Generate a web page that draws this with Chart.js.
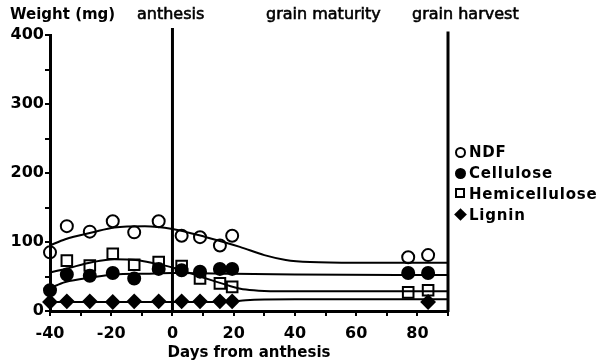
<!DOCTYPE html>
<html>
<head>
<meta charset="utf-8">
<script src="https://cdn.jsdelivr.net/npm/chart.js@4"></script>
<style>
  html, body { margin: 0; padding: 0; background: #fff; }
  #wrap { position: relative; width: 599px; height: 363px; overflow: hidden; }
  canvas { position: absolute; left: 0; top: 0; }
  .t { position: absolute; font-family: "DejaVu Sans", sans-serif; color: #000; white-space: nowrap; line-height: 16px; }
  .top { font-size: 16px; -webkit-text-stroke: 0.6px #000; }
  .ytitle { font-size: 15px; font-weight: bold; }
  .leg { font-size: 15px; font-weight: bold; letter-spacing: 0.8px; }
  .mk { position: absolute; box-sizing: border-box; }
</style>
</head>
<body>
<div id="wrap">
  <canvas id="c" width="599" height="363"></canvas>
  <div class="t ytitle" style="left:10px; top:6px;">Weight (mg)</div>
  <div class="t top" style="left:137px; top:6px;">anthesis</div>
  <div class="t top" style="left:266px; top:6px;">grain maturity</div>
  <div class="t top" style="left:412px; top:6px;">grain harvest</div>

  <div class="mk" style="left:455px; top:147px; width:11px; height:11px; border:2px solid #000; border-radius:50%;"></div>
  <div class="t leg" style="left:469px; top:144px;">NDF</div>
  <div class="mk" style="left:455px; top:168px; width:11px; height:11px; background:#000; border-radius:50%;"></div>
  <div class="t leg" style="left:469px; top:165px;">Cellulose</div>
  <div class="mk" style="left:455px; top:188px; width:10px; height:10px; border:2px solid #000;"></div>
  <div class="t leg" style="left:469px; top:186px;">Hemicellulose</div>
  <div class="mk" style="left:456px; top:210px; width:9px; height:9px; background:#000; transform:rotate(45deg);"></div>
  <div class="t leg" style="left:469px; top:207px;">Lignin</div>
</div>
<script>
// ---- data ----
const sampleDays      = [-40, -34.5, -27, -19.5, -12.5, -4.5, 3, 9, 15.5, 19.5, 77, 83.5];
const ndfValues       = [85, 123, 115, 130, 114, 130, 109, 107, 95, 109, 78, 81];
const celluloseValues = [30, 53, 51, 55, 47, 61, 59, 57, 61, 61, 55, 55];
const hemiDays        = [-34.5, -27, -19.5, -12.5, -4.5, 3, 9, 15.5, 19.5, 77, 83.5];
const hemiValues      = [73, 66, 83, 67, 71, 65, 47, 40, 35, 27, 30];
const ligninDays      = [-40, -34.5, -27, -19.5, -12.5, -4.5, 3, 9, 15.5, 19.5, 83.5];
const ligninValues    = [13, 14, 14, 13, 14, 14, 14, 14, 14, 14, 13];

// fitted curves
const ndfCurveDays   = [-40, -35, -26, -19, -9, 0, 11, 22, 30, 37, 45, 60, 90];
const ndfCurve       = [95, 104, 114, 121, 123, 119, 107, 93, 81, 74, 71, 70, 70];
const cellCurveDays  = [-40, -35, -26, -19, -9, 0, 20, 40, 90];
const cellCurve      = [33, 42, 49, 53, 54, 55, 54, 53, 52];
const hemiCurveDays  = [-40, -35, -26, -19, -12, -5, 0, 9, 19, 24, 30, 40, 90];
const hemiCurve      = [56, 61, 71, 75, 74, 68, 63, 50, 36, 31, 29, 28.5, 28.5];
const ligCurveDays   = [-40, 0, 18, 24, 30, 40, 90];
const ligCurve       = [13, 13, 13.5, 15.5, 16.5, 17, 17];

// event lines: [day, top value]
const eventDays = [0, 90];
const eventTops = [410, 405];

const xMin = -40, xMax = 90, yMin = 0, yMax = 400;

const pts = (xs, ys) => xs.map((x, i) => ({ x: x, y: ys[i] }));

function curve(xs, ys) {
  return {
    type: 'line', data: pts(xs, ys), borderColor: '#000', borderWidth: 2,
    pointRadius: 0, cubicInterpolationMode: 'monotone', fill: false, clip: false, order: 2
  };
}
function marks(xs, ys, style, r, filled) {
  return {
    type: 'scatter', data: pts(xs, ys), showLine: false, pointStyle: style, pointRadius: r,
    pointBorderWidth: 2, pointBorderColor: '#000',
    pointBackgroundColor: filled ? '#000' : 'rgba(0,0,0,0)', clip: false, order: 1
  };
}

const eventLines = {
  id: 'eventLines',
  afterDatasetsDraw(chart) {
    const { ctx, chartArea, scales } = chart;
    ctx.save();
    ctx.strokeStyle = '#000';
    ctx.lineWidth = 3;
    eventDays.forEach((d, i) => {
      const px = scales.x.getPixelForValue(d);
      ctx.beginPath();
      ctx.moveTo(px, scales.y.getPixelForValue(eventTops[i]));
      ctx.lineTo(px, chartArea.bottom + 1);
      ctx.stroke();
    });
    ctx.restore();
  }
};

new Chart(document.getElementById('c'), {
  data: {
    datasets: [
      marks(sampleDays, ndfValues, 'circle', 6, false),
      marks(sampleDays, celluloseValues, 'circle', 6, true),
      marks(hemiDays, hemiValues, 'rect', 7.5, false),
      marks(ligninDays, ligninValues, 'rectRot', 6.5, true),
      curve(ndfCurveDays, ndfCurve),
      curve(cellCurveDays, cellCurve),
      curve(hemiCurveDays, hemiCurve),
      curve(ligCurveDays, ligCurve)
    ]
  },
  options: {
    responsive: false,
    animation: false,
    devicePixelRatio: 1,
    layout: { padding: { left: 0, right: 151, top: 35, bottom: 0 } },
    plugins: { legend: { display: false }, tooltip: { enabled: false } },
    scales: {
      x: {
        type: 'linear', min: xMin, max: xMax,
        border: { display: true, color: '#000', width: 3 },
        grid: { display: true, drawOnChartArea: false, drawTicks: true, tickLength: 5, color: '#000', lineWidth: 2 },
        ticks: {
          stepSize: 10, color: '#000', padding: 8, maxRotation: 0, autoSkip: false,
          font: { family: 'DejaVu Sans', size: 16, weight: 'bold' },
          callback: v => (v % 20 === 0 ? String(v) : '')
        },
        title: {
          display: true, text: 'Days from anthesis', color: '#000',
          font: { family: 'DejaVu Sans', size: 15, weight: 'bold' },
          padding: { top: 0, bottom: 1 }
        },
        afterFit(s) { s.height = 52; }
      },
      y: {
        type: 'linear', min: yMin, max: yMax,
        border: { display: true, color: '#000', width: 3 },
        grid: { display: true, drawOnChartArea: false, drawTicks: true, tickLength: 5, color: '#000', lineWidth: 2 },
        ticks: {
          stepSize: 50, color: '#000', padding: 1, autoSkip: false,
          font: { family: 'DejaVu Sans', size: 16, weight: 'bold' },
          callback: v => (v % 100 === 0 ? String(v) : '')
        },
        afterFit(s) { s.width = 50; }
      }
    }
  },
  plugins: [eventLines]
});
</script>
</body>
</html>
